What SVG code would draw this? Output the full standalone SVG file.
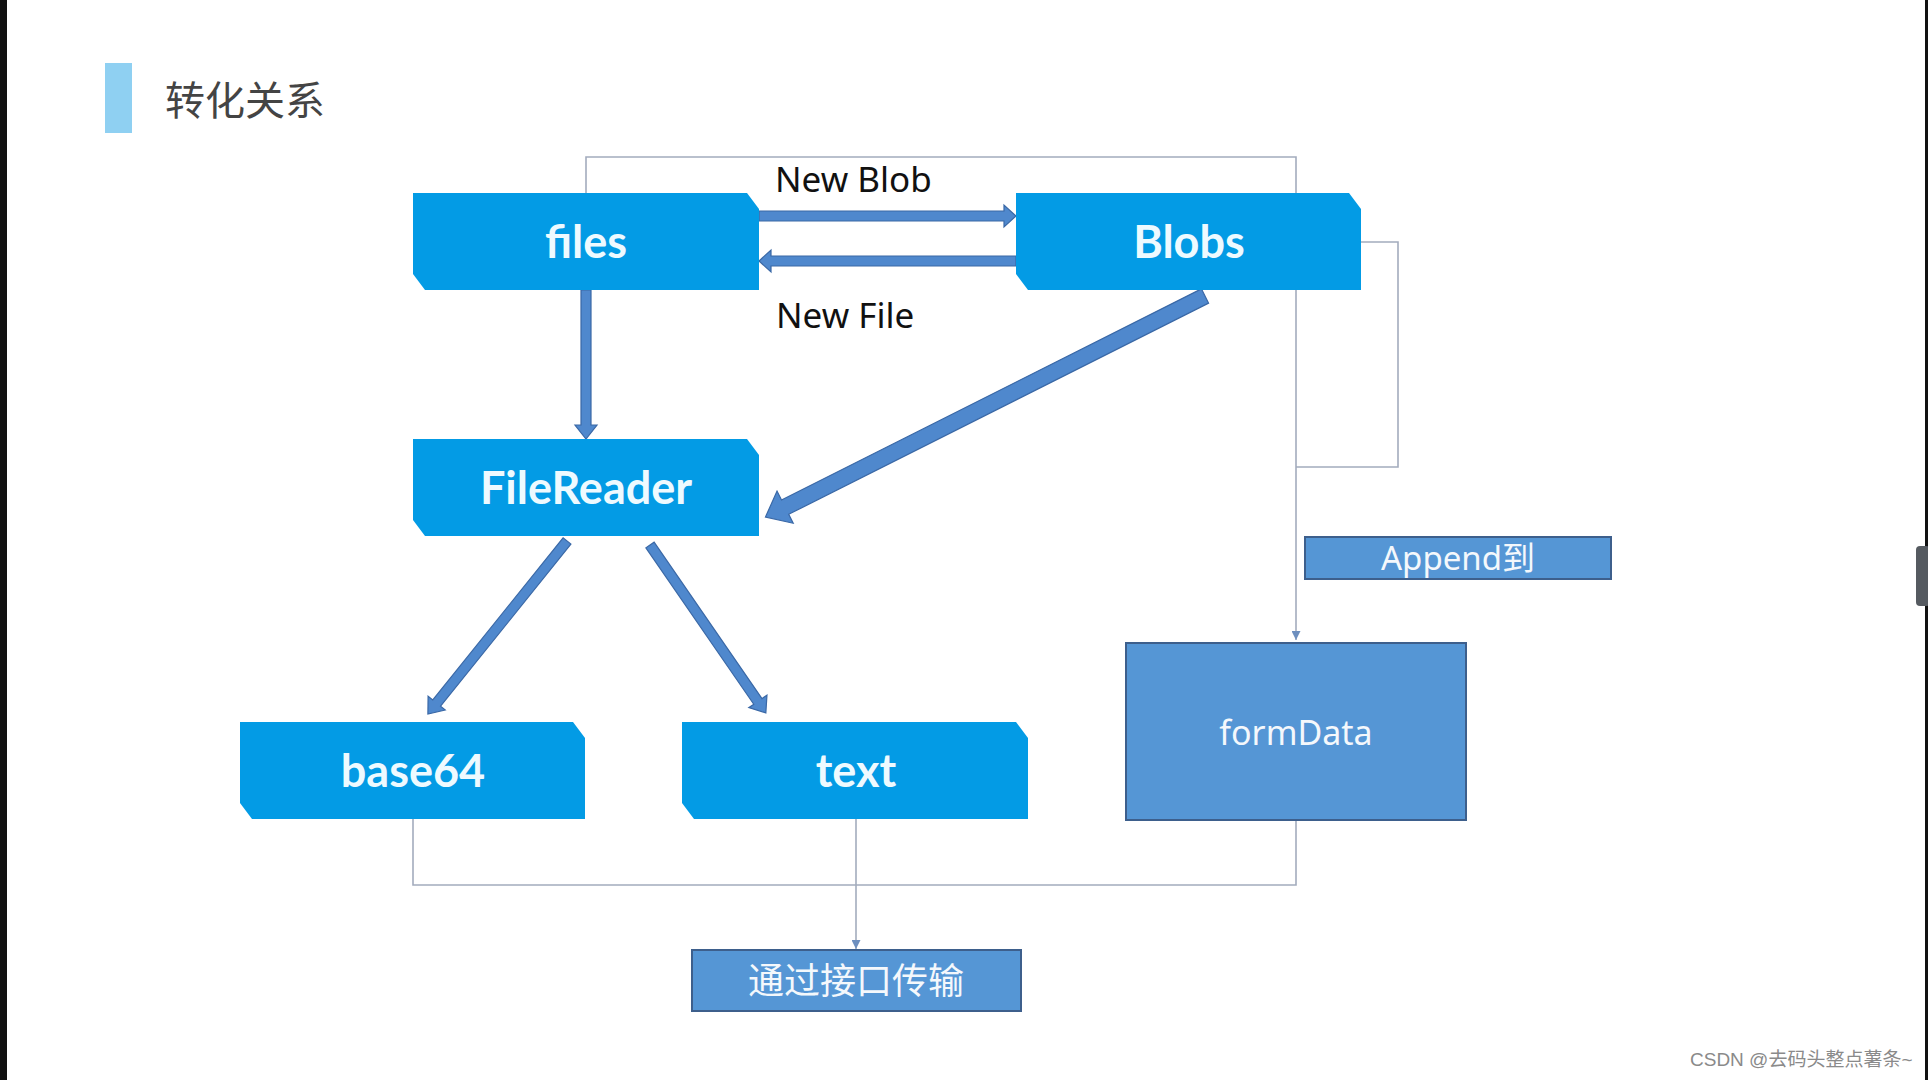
<svg xmlns="http://www.w3.org/2000/svg" width="1928" height="1080" viewBox="0 0 1928 1080">
<style>
.node{fill:#039be5}
.nlabel{font-family:Lato,"Noto Sans",sans-serif;font-weight:bold;font-size:45px;fill:#eefaff;text-anchor:middle}
.blk{fill:#4f88cd;stroke:#3a68a6;stroke-width:1.2}
.thin{fill:none;stroke:#a3acbd;stroke-width:1.6}
.rbox{fill:#5596d5;stroke:#3d5f8c;stroke-width:2}
.rlabel{font-family:"Noto Sans","Noto Sans CJK SC",sans-serif;fill:#f4f8fc;text-anchor:middle}
.elabel{font-family:"Noto Sans",sans-serif;font-size:35px;fill:#111}
</style>
<defs>
<marker id="tri" viewBox="0 0 10 10" refX="10" refY="5" markerWidth="9" markerHeight="9" markerUnits="userSpaceOnUse" orient="auto">
<path d="M0,0 L10,5 L0,10 Z" fill="#6d8fbf"/>
</marker>
</defs>
<rect width="1928" height="1080" fill="#ffffff"/>
<rect x="0" y="0" width="7" height="1080" fill="#111"/>
<rect x="1925" y="0" width="3" height="1080" fill="#111"/>
<rect x="1916" y="546" width="14" height="60" rx="4" fill="#555a60"/>

<rect x="105" y="63" width="27" height="70" fill="#8fd0f2"/>
<text x="165" y="115" font-family="'Noto Sans CJK SC',sans-serif" font-size="40" fill="#444">转化关系</text>

<g id="connectors">
<polyline class="thin" points="586,193 586,157 1296,157 1296,640" marker-end="url(#tri)"/>
<polyline class="thin" points="1361,242 1398,242 1398,467 1296,467"/>
<polyline class="thin" points="413,819 413,885 1296,885 1296,820"/>
<polyline class="thin" points="856,819 856,949" marker-end="url(#tri)"/>
<polygon class="blk" points="759,211 1004,211 1004,205 1016,216 1004,227 1004,221 759,221"/>
<polygon class="blk" points="1016,256 771,256 771,250 759,261 771,272 771,266 1016,266"/>
<polygon class="blk" points="581,290 581,425 575,425 586,439 597,425 591,425 591,290"/>
<polygon class="blk" transform="translate(1205,296) rotate(153.3)" points="0,-8 470,-8 470,-18 492,0 470,18 470,8 0,8"/>
<polygon class="blk" transform="translate(567,541) rotate(128.8)" points="0,-5 208,-5 208,-11 222,0 208,11 208,5 0,5"/>
<polygon class="blk" transform="translate(650,545) rotate(55.4)" points="0,-5 190,-5 190,-11 204,0 190,11 190,5 0,5"/>
<text class="elabel" x="775" y="192">New Blob</text>
<text class="elabel" x="776" y="328">New File</text>
</g>

<g id="files">
<path class="node" d="M413,193 H747 L759,209 V290 H425 L413,274 Z"/>
<text class="nlabel" x="586" y="258">files</text>
</g>
<g id="blobs">
<path class="node" d="M1016,193 H1349 L1361,209 V290 H1028 L1016,274 Z"/>
<text class="nlabel" x="1189" y="258">Blobs</text>
</g>
<g id="filereader">
<path class="node" d="M413,439 H747 L759,455 V536 H425 L413,520 Z"/>
<text class="nlabel" x="586" y="504">FileReader</text>
</g>
<g id="base64">
<path class="node" d="M240,722 H573 L585,738 V819 H252 L240,803 Z"/>
<text class="nlabel" x="413" y="787">base64</text>
</g>
<g id="text">
<path class="node" d="M682,722 H1016 L1028,738 V819 H694 L682,803 Z"/>
<text class="nlabel" x="856" y="787">text</text>
</g>
<g id="append">
<rect class="rbox" x="1305" y="537" width="306" height="42"/>
<text class="rlabel" x="1458" y="570" font-size="33">Append到</text>
</g>
<g id="formdata">
<rect class="rbox" x="1126" y="643" width="340" height="177"/>
<text class="rlabel" x="1296" y="745" font-size="34">formData</text>
</g>
<g id="transfer">
<rect class="rbox" x="692" y="950" width="329" height="61"/>
<text class="rlabel" x="856" y="994" font-size="36">通过接口传输</text>
</g>
<text x="1690" y="1066" font-family="'Liberation Sans','Noto Sans CJK SC',sans-serif" font-size="19" fill="#8a8a8a">CSDN @去码头整点薯条~</text>
</svg>
